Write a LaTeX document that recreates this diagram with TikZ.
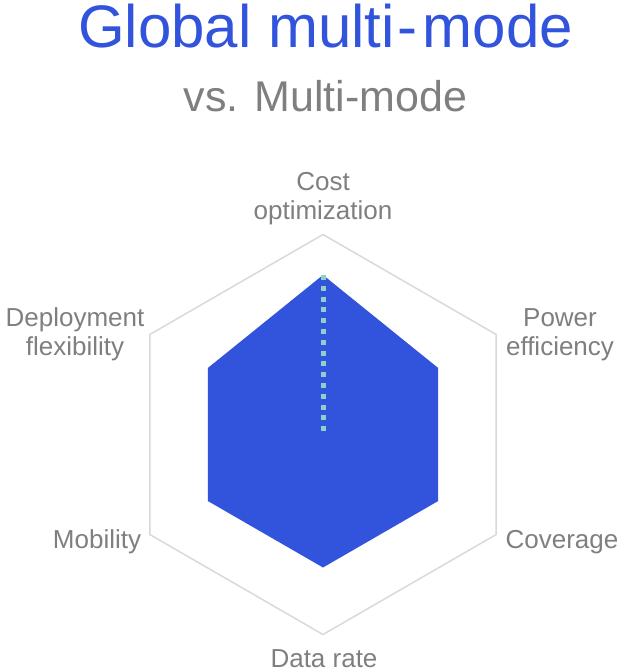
\documentclass[tikz,border=0pt]{standalone}
\usepackage{fontspec}
\setmainfont{Liberation Sans}
\usetikzlibrary{calc}
\definecolor{mmblue}{HTML}{3253DC}
\definecolor{labelgray}{HTML}{7F7F7F}
\definecolor{gridgray}{HTML}{D9D9D9}
\definecolor{dotteal}{HTML}{8FD1C8}
\tikzset{
  axislabel/.style={text=labelgray, font=\fontsize{26}{29}\selectfont, align=center, anchor=base, inner sep=0pt},
  gridline/.style={draw=gridgray, line width=1.5pt, line join=miter},
  scorearea/.style={fill=mmblue, draw=none},
  markerline/.style={draw=dotteal, line width=5pt, dash pattern=on 5pt off 5.8pt}
}
\begin{document}
\begin{tikzpicture}[x=1pt,y=-1pt]
\useasboundingbox (0,0) rectangle (628,671);
% centre of the chart (y axis points down, so -90 is up)
\coordinate (c) at (323,434.5);
% title
\node[text=mmblue, font=\fontsize{60}{62}\selectfont, anchor=base, inner sep=0pt] (title) at (325.5,48) {Global multi\kern3pt-\kern5pt mode};
\node[text=labelgray, font=\fontsize{43}{46}\selectfont, anchor=base, inner sep=0pt] (subtitle) at (325.5,112) {vs. Multi-mode};
% outer frame
\draw[gridline] ($(c)+(-90:200)$) -- ($(c)+(-30:200)$) -- ($(c)+(30:200)$) -- ($(c)+(90:200)$) -- ($(c)+(150:200)$) -- ($(c)+(-150:200)$) -- cycle;
% scores
\fill[scorearea] ($(c)+(-90:159.5)$) -- ($(c)+(-30:133)$) -- ($(c)+(30:133)$) -- ($(c)+(90:133)$) -- ($(c)+(150:133)$) -- ($(c)+(-150:133)$) -- cycle;
% reference marker on the cost axis
\coordinate (mtop) at (323,275);
\coordinate (mbot) at (323,432);
\draw[markerline] (mtop) -- (mbot);
% axis labels (base = baseline of the last line)
\node[axislabel] (cost) at (323,219) {Cost\\optimization};
\node[axislabel] (power) at (560,355) {Power\\efficiency};
\node[axislabel] (deploy) at (75,355) {Deployment\\flexibility};
\node[axislabel] (mob) at (97,548) {Mobility};
\node[axislabel] (cov) at (562,548) {Coverage};
\node[axislabel] (rate) at (324,667) {Data rate};
\end{tikzpicture}
\end{document}
